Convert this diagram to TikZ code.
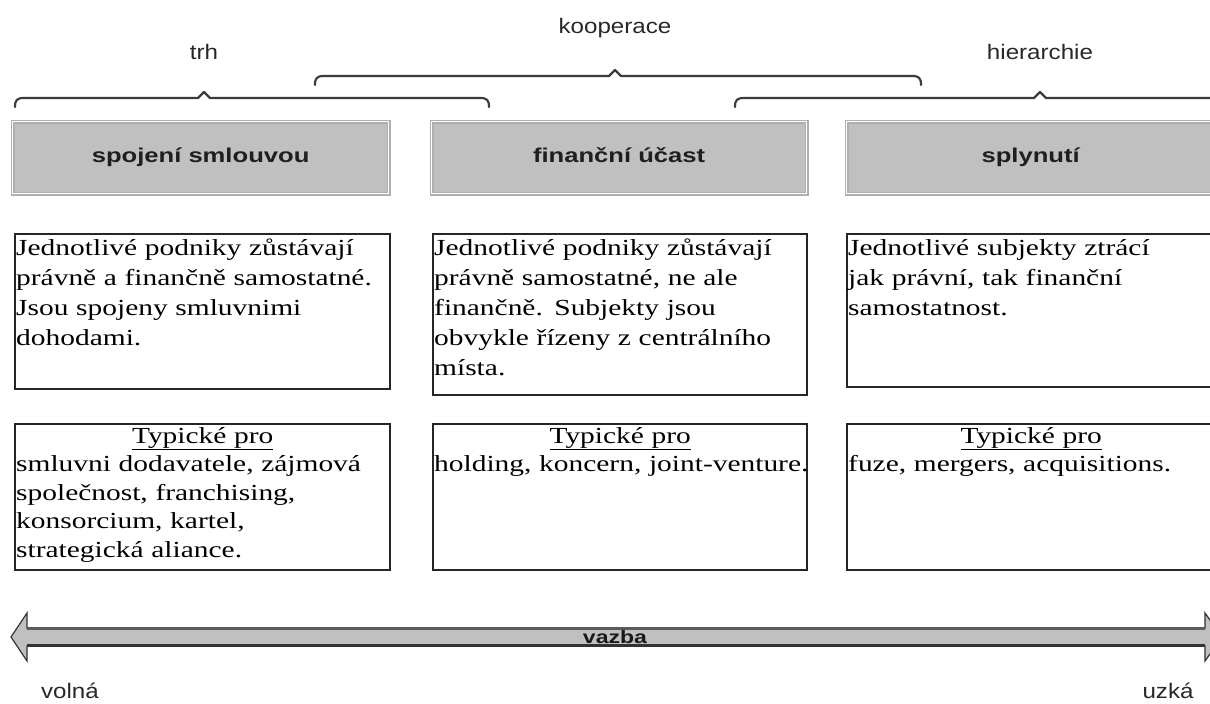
\documentclass[tikz,border=0pt]{standalone}
\usepackage{fontspec}
\setmainfont{Liberation Serif}
\newfontfamily\bodyfont{Liberation Serif}[FakeStretch=1.28]
\newfontfamily\labfont{Liberation Sans}[FakeStretch=1.15]
\newfontfamily\headfont{Liberation Sans}[FakeStretch=1.28]
\definecolor{boxgray}{RGB}{192,192,192}
\definecolor{edgegray}{RGB}{175,175,175}
\definecolor{bracegray}{RGB}{60,60,60}
\definecolor{labgray}{RGB}{40,40,40}
\definecolor{darkline}{RGB}{50,50,50}
\begin{document}
\begin{tikzpicture}[x=1pt,y=-1pt,
  bracel/.style={draw=bracegray,line width=2.2pt,line join=round,line cap=round},
  toplabel/.style={font=\labfont\fontsize{21}{24}\selectfont,text=labgray,inner sep=0pt},
  headbox/.style={draw=edgegray,line width=1.2pt,double=white,double distance=1.4pt,fill=boxgray,
    minimum height=72pt,inner sep=0pt,anchor=north west,text height=14pt,text depth=4pt,
    font=\headfont\bfseries\fontsize{20}{24}\selectfont,text=black!88},
  tbox/.style={draw=black!85,line width=1.8pt,fill=white,inner sep=0pt,anchor=north west},
  btext/.style={font=\bodyfont\fontsize{23}{30}\selectfont,text=black,text width=400pt,
    align=left,inner sep=0pt,anchor=north west},
  ttext/.style={btext,font=\bodyfont\fontsize{23}{28.5}\selectfont},
  endlabel/.style={font=\labfont\fontsize{21}{24}\selectfont,text=labgray,inner sep=0pt}]
\useasboundingbox (0,0) rectangle (1210,704);
\fill[white] (0,0) rectangle (1210,704);
\begin{scope}
\clip (0,0) rectangle (1210,704);
% top labels
\node[toplabel] (koop) at (615,28) {kooperace};
\node[toplabel] (trh) at (204,52) {trh};
\node[toplabel] (hier) at (1040,52) {hierarchie};
% braces
\draw[bracel] (15,107) .. controls (15,100) and (17,98) .. (24,98) -- (198,98) -- (204,92) -- (210,98)
  -- (480,98) .. controls (487,98) and (489,100) .. (489,107);
\draw[bracel] (315,85) .. controls (315,78) and (317,76) .. (324,76) -- (609,76) -- (615,70) -- (621,76)
  -- (912,76) .. controls (919,76) and (921,78) .. (921,85);
\draw[bracel] (735,107) .. controls (735,100) and (737,98) .. (744,98) -- (1034,98) -- (1040,92) -- (1046,98)
  -- (1225,98);
% header boxes
\node[headbox,minimum width=376pt] (h1) at (12,121) {spojení smlouvou};
\node[headbox,minimum width=375pt] (h2) at (431,121) {finanční účast};
\node[headbox,minimum width=368pt] (h3) at (846,121) {splynutí};
% description boxes
\node[tbox,minimum width=375pt,minimum height=155pt] (d1) at (14,233) {};
\node[tbox,minimum width=374pt,minimum height=161pt] (d2) at (432,233) {};
\node[tbox,minimum width=380pt,minimum height=153pt] (d3) at (846,233) {};
\node[btext] (d1t) at (16,238) {\rule{0pt}{17pt}Jednotlivé podniky zůstávají\\právně a finančně samostatné.\\Jsou spojeny smluvnimi\\dohodami.};
\node[btext] (d2t) at (434,238) {\rule{0pt}{17pt}Jednotlivé podniky zůstávají\\právně samostatné, ne ale\\finančně. Subjekty jsou\\obvykle řízeny z centrálního\\místa.};
\node[btext] (d3t) at (848,238) {\rule{0pt}{17pt}Jednotlivé subjekty ztrácí\\jak právní, tak finanční\\samostatnost.};
% typical boxes
\node[tbox,minimum width=375pt,minimum height=146pt] (t1) at (14,423) {};
\node[tbox,minimum width=374pt,minimum height=146pt] (t2) at (432,423) {};
\node[tbox,minimum width=380pt,minimum height=146pt] (t3) at (846,423) {};
\node[ttext] (t1t) at (16,426) {\rule{0pt}{17pt}\makebox[373pt]{\underline{Typické pro}}\\smluvni dodavatele, zájmová\\společnost, franchising,\\konsorcium, kartel,\\strategická aliance.};
\node[ttext] (t2t) at (434,426) {\rule{0pt}{17pt}\makebox[372pt]{\underline{Typické pro}}\\holding, koncern, joint-venture.};
\node[ttext] (t3t) at (848,426) {\rule{0pt}{17pt}\makebox[366pt]{\underline{Typické pro}}\\fuze, mergers, acquisitions.};
% double arrow
\coordinate (al) at (11,637);
\coordinate (ar) at (1222,637);
\filldraw[fill=boxgray,draw=darkline,line width=1.2pt,line join=miter]
  (al) -- (27,613) -- (27,628) -- (1205,628) -- (1205,613) -- (ar) -- (1205,661) -- (1205,646)
  -- (27,646) -- (27,661) -- cycle;
\draw[draw=darkline!80,line width=2.6pt] (27,628.5) -- (1205,628.5);
\draw[draw=darkline,line width=2.4pt] (27,645.5) -- (1205,645.5);
\node[font=\headfont\bfseries\fontsize{18}{20}\selectfont,text=black!90,inner sep=0pt] (vazba) at (615,637) {vazba};
% end labels
\node[endlabel] (voln) at (70,691) {volná};
\node[endlabel] (uzka) at (1168,691) {uzká};
\end{scope}
\end{tikzpicture}
\end{document}
